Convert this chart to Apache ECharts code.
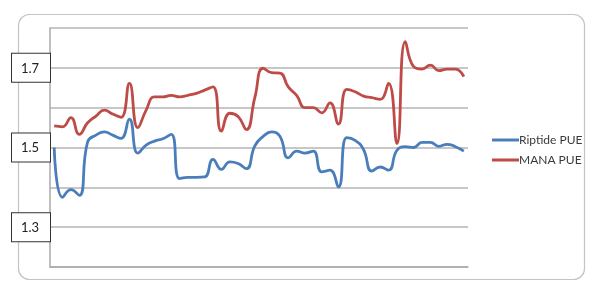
<!DOCTYPE html>
<html><head><meta charset="utf-8">
<script src="https://cdn.jsdelivr.net/npm/echarts@6/dist/echarts.min.js"></script>
<style>html,body{margin:0;padding:0;background:#fff}#c{width:600px;height:295px}</style>
</head><body><div id="c"></div>
<script>
const categories = Array.from({length: 50}, (_, i) => 'W' + (i + 1));
const riptidePUE = [1.50,1.375,1.394,1.38,1.514,1.531,1.539,1.531,1.523,1.571,
  1.486,1.506,1.516,1.522,1.533,1.422,1.425,1.425,1.426,1.470,
  1.445,1.464,1.460,1.447,1.504,1.528,1.539,1.528,1.474,1.491,
  1.486,1.491,1.439,1.443,1.401,1.525,1.518,1.495,1.441,1.451,
  1.443,1.493,1.502,1.500,1.513,1.513,1.503,1.508,1.502,1.491];
const manaPUE = [1.554,1.552,1.575,1.533,1.562,1.579,1.594,1.584,1.576,1.661,
  1.550,1.594,1.627,1.627,1.631,1.627,1.631,1.636,1.644,1.652,
  1.541,1.586,1.578,1.545,1.625,1.699,1.688,1.687,1.652,1.631,
  1.600,1.600,1.587,1.612,1.559,1.646,1.640,1.629,1.625,1.621,
  1.661,1.510,1.766,1.703,1.697,1.707,1.693,1.697,1.697,1.678];
const seriesNames = ['Riptide PUE', 'MANA PUE'];
const shownTicks = ['1.3', '1.5', '1.7'];

const chart = echarts.init(document.getElementById('c'), null, {renderer: 'canvas'});
const font = 'Lato, "Open Sans", "Liberation Sans", sans-serif';
chart.setOption({
  animation: false,
  backgroundColor: '#fff',
  graphic: [{
    type: 'rect', shape: {x: 18.5, y: 14.5, width: 566, height: 265, r: 11},
    style: {fill: 'none', stroke: '#c4c4c4', lineWidth: 1.2}, z: -1
  }],
  grid: {left: 50, top: 28, right: 132, bottom: 28},
  legend: {
    orient: 'vertical', left: 487, top: 129,
    icon: 'rect', itemWidth: 27, itemHeight: 3, itemGap: 8,
    textStyle: {fontFamily: font, fontSize: 12, color: '#3a3a3a', padding: [0, 0, 0, -5]},
    data: seriesNames
  },
  xAxis: {
    type: 'category', data: categories, boundaryGap: true,
    axisLine: {show: true, lineStyle: {color: '#aaaaaa', width: 1.5}},
    axisTick: {show: false}, axisLabel: {show: false}, splitLine: {show: false}
  },
  yAxis: {
    type: 'value', min: 1.2, max: 1.8, interval: 0.1,
    axisLine: {show: true, lineStyle: {color: '#aaaaaa', width: 1.5}},
    axisTick: {show: false},
    splitLine: {show: true, lineStyle: {color: '#b4b4b4', width: 1.5}},
    axisLabel: {
      margin: 0,
      formatter: v => { const s = v.toFixed(1); return shownTicks.includes(s) ? '{b|' + s + '}' : ''; },
      rich: {
        b: {fontFamily: font, fontSize: 13, color: '#222', backgroundColor: '#fff',
            borderColor: '#333', borderWidth: 1, padding: [8, 13, 7, 9], width: 16, align: 'left'}
      }
    }
  },
  series: [
    {name: seriesNames[0], type: 'line', data: riptidePUE, smooth: 0.5, symbol: 'none',
     lineStyle: {color: '#4a7ebb', width: 2.8}, itemStyle: {color: '#4a7ebb'}},
    {name: seriesNames[1], type: 'line', data: manaPUE, smooth: 0.5, symbol: 'none',
     lineStyle: {color: '#be4b48', width: 2.8}, itemStyle: {color: '#be4b48'}}
  ]
});
</script></body></html>
